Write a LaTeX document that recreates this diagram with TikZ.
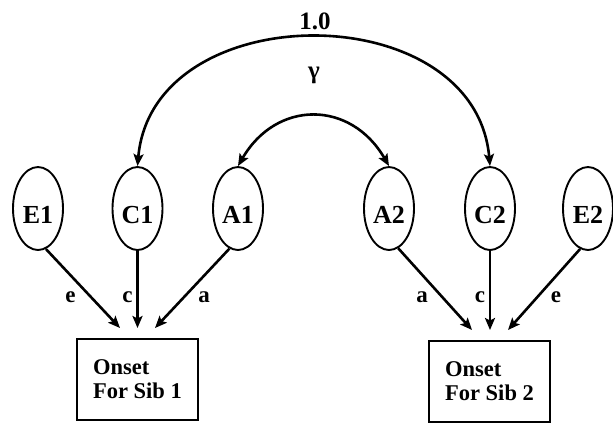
\documentclass[tikz,border=0pt]{standalone}
\usepackage{fontspec}
\setmainfont{Liberation Serif}
\usetikzlibrary{shapes.geometric,arrows.meta}
\tikzset{
  latent/.style={ellipse, draw, line width=1.9pt, minimum width=50pt, minimum height=83pt,
    inner sep=0pt, font=\fontsize{26}{28}\selectfont\bfseries, text height=29pt, text depth=0pt},
  onsetbox/.style={rectangle, draw, line width=2.4pt, minimum width=121pt, minimum height=81pt,
    align=left, font=\fontsize{22.5}{24}\selectfont\bfseries},
  path/.style={line width=2.6pt, -{Stealth[length=12pt,width=10pt,inset=2.5pt]}},
  covpath/.style={line width=2.6pt, {Stealth[length=12pt,width=10pt,inset=2.5pt]}-{Stealth[length=12pt,width=10pt,inset=2.5pt]}},
  coef/.style={font=\fontsize{23}{24}\selectfont\bfseries, inner sep=0pt}
}
\begin{document}
\begin{tikzpicture}[x=1pt,y=1pt]
\useasboundingbox (0,0) rectangle (613,-424);

% latent variables
\node[latent] (E1) at (38,-208.5) {E1};
\node[latent] (C1) at (137.5,-208.5) {C1};
\node[latent] (A1) at (238,-208.5) {A1};
\node[latent] (A2) at (389,-208.5) {A2};
\node[latent] (C2) at (490,-208.5) {C2};
\node[latent] (E2) at (588,-208.5) {E2};

% observed onsets
\node[onsetbox] (O1) at (137.5,-379.5) {Onset\\For Sib 1};
\node[onsetbox] (O2) at (489.5,-381.5) {Onset\\For Sib 2};

% arrow ends above the boxes
\coordinate (te1) at (120,-328);
\coordinate (tc1) at (137.5,-328);
\coordinate (ta1) at (155,-328);
\coordinate (ta2) at (472,-330);
\coordinate (tc2) at (490,-330);
\coordinate (te2) at (508,-330);

% paths to onset, sibling 1
\draw[path] (E1.-79) -- (te1);
\draw[path] (C1.south) -- (tc1);
\draw[path] (A1.-102) -- (ta1);
% paths to onset, sibling 2
\draw[path] (A2.-77) -- (ta2);
\draw[path] (C2.south) -- (tc2);
\draw[path] (E2.-101) -- (te2);

% path coefficients
\node[coef] (le1) at (70.5,-297) {e};
\node[coef] (lc1) at (127.5,-297) {c};
\node[coef] (la1) at (204,-297) {a};
\node[coef] (la2) at (422,-297) {a};
\node[coef] (lc2) at (480,-297) {c};
\node[coef] (le2) at (556,-297) {e};

% correlations between siblings
\draw[covpath] (C1.north) to[out=85,in=95,looseness=1.25] (C2.north);
\draw[covpath] (A1.north) to[out=60,in=120,looseness=1.3] (A2.north);

\node[font=\fontsize{25}{26}\selectfont\bfseries, inner sep=0pt] (one) at (315,-21) {1.0};
\node[font=\fontsize{25}{26}\selectfont\bfseries, inner sep=0pt] (gam) at (314,-75) {γ};
\end{tikzpicture}
\end{document}
